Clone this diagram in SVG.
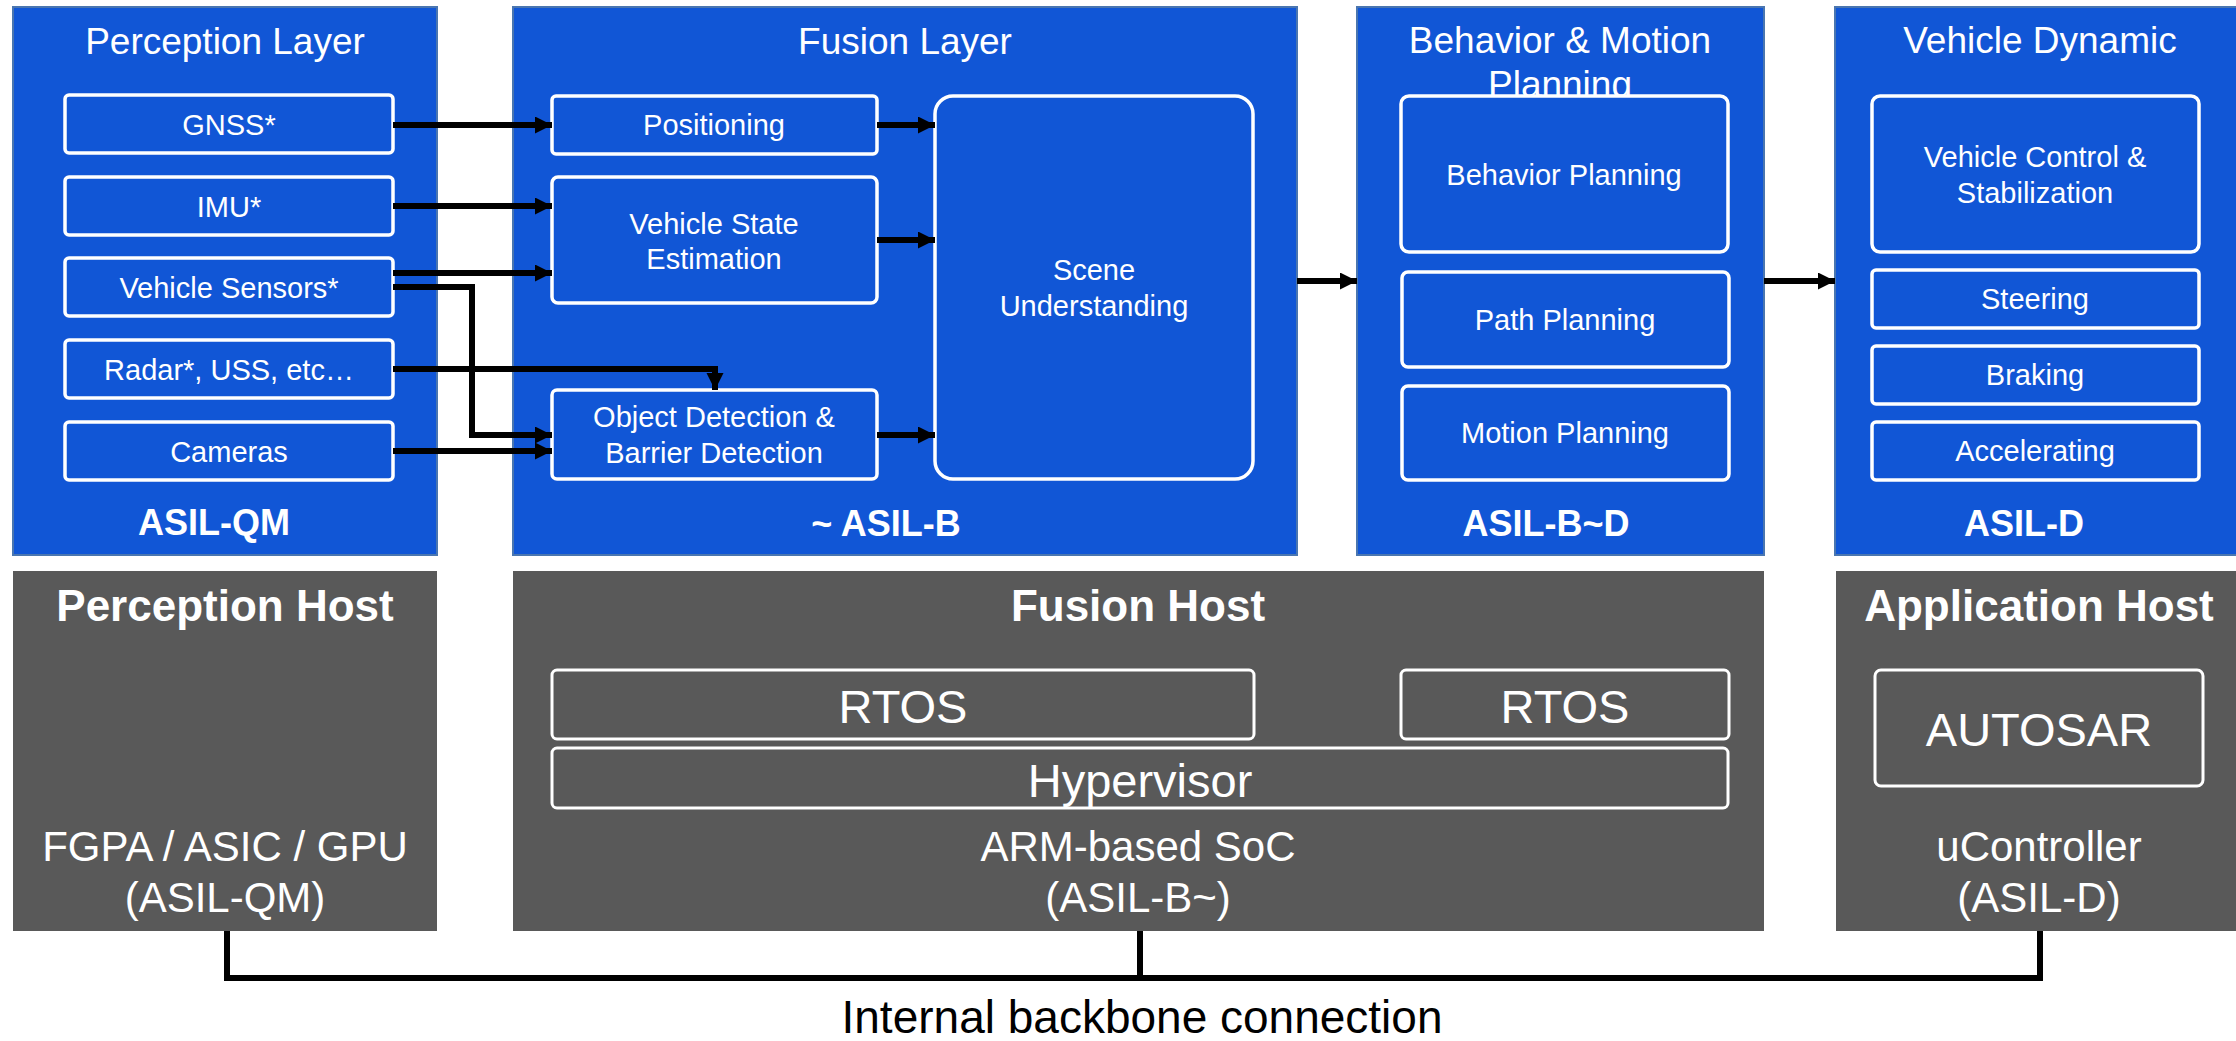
<svg xmlns="http://www.w3.org/2000/svg" width="2236" height="1041" viewBox="0 0 2236 1041">
  <style>
    text { font-family: "Liberation Sans", Arial, sans-serif; text-anchor: middle; }
    .panel { fill: #1156D6; stroke: #4A76B0; stroke-width: 2; }
    .host { fill: #595959; }
    .box { fill: #1156D6; stroke: #FFFFFF; stroke-width: 3.5; }
    .hbox { fill: none; stroke: #FFFFFF; stroke-width: 3; }
    .title { fill: #FFFFFF; font-size: 37px; }
    .lbl { fill: #FFFFFF; font-size: 29px; }
    .asil { fill: #FFFFFF; font-size: 36px; font-weight: bold; }
    .htitle { fill: #FFFFFF; font-size: 44px; font-weight: bold; }
    .hbig { fill: #FFFFFF; font-size: 47px; }
    .hsub { fill: #FFFFFF; font-size: 42px; }
    .wire { fill: none; stroke: #000000; stroke-width: 6; }
  </style>
  <defs>
    <marker id="arrow" markerUnits="userSpaceOnUse" markerWidth="18" markerHeight="18" refX="17" refY="8.5" orient="auto">
      <path d="M0,0 L17,8.5 L0,17 Z" fill="#000000"/>
    </marker>
  </defs>

  <rect width="2236" height="1041" fill="#FFFFFF"/>

  <!-- Perception layer -->
  <g id="perception-layer">
    <rect class="panel" x="13" y="7" width="424" height="548"/>
    <text class="title" x="225" y="54">Perception Layer</text>
    <text class="asil" x="214" y="535">ASIL-QM</text>
  </g>
  <g id="gnss"><rect class="box" x="65" y="95" width="328" height="58" rx="4"/><text class="lbl" x="229" y="135">GNSS*</text></g>
  <g id="imu"><rect class="box" x="65" y="177" width="328" height="58" rx="4"/><text class="lbl" x="229" y="217">IMU*</text></g>
  <g id="vehicle-sensors"><rect class="box" x="65" y="258" width="328" height="58" rx="4"/><text class="lbl" x="229" y="298">Vehicle Sensors*</text></g>
  <g id="radar"><rect class="box" x="65" y="340" width="328" height="58" rx="4"/><text class="lbl" x="229" y="380">Radar*, USS, etc…</text></g>
  <g id="cameras"><rect class="box" x="65" y="422" width="328" height="58" rx="4"/><text class="lbl" x="229" y="462">Cameras</text></g>

  <!-- Fusion layer -->
  <g id="fusion-layer">
    <rect class="panel" x="513" y="7" width="784" height="548"/>
    <text class="title" x="905" y="54">Fusion Layer</text>
    <text class="asil" x="886" y="536">~ ASIL-B</text>
  </g>
  <g id="positioning"><rect class="box" x="552" y="96" width="325" height="58" rx="4"/><text class="lbl" x="714" y="135">Positioning</text></g>
  <g id="vehicle-state"><rect class="box" x="552" y="177" width="325" height="126" rx="6"/><text class="lbl" x="714" y="234">Vehicle State</text><text class="lbl" x="714" y="269">Estimation</text></g>
  <g id="object-detection"><rect class="box" x="552" y="390" width="325" height="89" rx="5"/><text class="lbl" x="714" y="427">Object Detection &amp;</text><text class="lbl" x="714" y="463">Barrier Detection</text></g>
  <g id="scene-understanding"><rect class="box" x="935" y="96" width="318" height="383" rx="18"/><text class="lbl" x="1094" y="280">Scene</text><text class="lbl" x="1094" y="316">Understanding</text></g>

  <!-- Behavior & motion planning layer -->
  <g id="planning-layer">
    <rect class="panel" x="1357" y="7" width="407" height="548"/>
    <text class="title" x="1560" y="53">Behavior &amp; Motion</text>
    <text class="title" x="1560" y="97">Planning</text>
    <text class="asil" x="1546" y="536">ASIL-B~D</text>
  </g>
  <g id="behavior-planning"><rect class="box" x="1401" y="96" width="327" height="156" rx="8"/><text class="lbl" x="1564" y="185">Behavior Planning</text></g>
  <g id="path-planning"><rect class="box" x="1402" y="272" width="327" height="95" rx="6"/><text class="lbl" x="1565" y="330">Path Planning</text></g>
  <g id="motion-planning"><rect class="box" x="1402" y="386" width="327" height="94" rx="6"/><text class="lbl" x="1565" y="443">Motion Planning</text></g>

  <!-- Vehicle dynamic layer -->
  <g id="vehicle-dynamic-layer">
    <rect class="panel" x="1835" y="7" width="412" height="548"/>
    <text class="title" x="2040" y="53">Vehicle Dynamic</text>
    <text class="asil" x="2024" y="536">ASIL-D</text>
  </g>
  <g id="vehicle-control"><rect class="box" x="1872" y="96" width="327" height="156" rx="8"/><text class="lbl" x="2035" y="167">Vehicle Control &amp;</text><text class="lbl" x="2035" y="203">Stabilization</text></g>
  <g id="steering"><rect class="box" x="1872" y="270" width="327" height="58" rx="4"/><text class="lbl" x="2035" y="309">Steering</text></g>
  <g id="braking"><rect class="box" x="1872" y="346" width="327" height="58" rx="4"/><text class="lbl" x="2035" y="385">Braking</text></g>
  <g id="accelerating"><rect class="box" x="1872" y="422" width="327" height="58" rx="4"/><text class="lbl" x="2035" y="461">Accelerating</text></g>

  <!-- Hosts -->
  <g id="perception-host">
    <rect class="host" x="13" y="571" width="424" height="360"/>
    <text class="htitle" x="225" y="621">Perception Host</text>
    <text class="hsub" x="225" y="861">FGPA / ASIC / GPU</text>
    <text class="hsub" x="225" y="912">(ASIL-QM)</text>
  </g>
  <g id="fusion-host">
    <rect class="host" x="513" y="571" width="1251" height="360"/>
    <text class="htitle" x="1138" y="621">Fusion Host</text>
    <text class="hsub" x="1138" y="861">ARM-based SoC</text>
    <text class="hsub" x="1138" y="912">(ASIL-B~)</text>
  </g>
  <g id="rtos-1"><rect class="hbox" x="552" y="670" width="702" height="69" rx="5"/><text class="hbig" x="903" y="723">RTOS</text></g>
  <g id="rtos-2"><rect class="hbox" x="1401" y="670" width="328" height="69" rx="5"/><text class="hbig" x="1565" y="723">RTOS</text></g>
  <g id="hypervisor"><rect class="hbox" x="552" y="748" width="1176" height="60" rx="5"/><text class="hbig" x="1140" y="797">Hypervisor</text></g>
  <g id="application-host">
    <rect class="host" x="1836" y="571" width="410" height="360"/>
    <text class="htitle" x="2039" y="621">Application Host</text>
    <text class="hsub" x="2039" y="861">uController</text>
    <text class="hsub" x="2039" y="912">(ASIL-D)</text>
  </g>
  <g id="autosar"><rect class="hbox" x="1875" y="670" width="328" height="116" rx="6"/><text class="hbig" x="2039" y="746">AUTOSAR</text></g>

  <!-- Connectors -->
  <g id="connectors">
    <path class="wire" d="M393,125 H552" marker-end="url(#arrow)"/>
    <path class="wire" d="M393,206 H552" marker-end="url(#arrow)"/>
    <path class="wire" d="M393,273 H552" marker-end="url(#arrow)"/>
    <path class="wire" d="M393,287 H472 V435 H552" marker-end="url(#arrow)"/>
    <path class="wire" d="M393,369 H715 V390" marker-end="url(#arrow)"/>
    <path class="wire" d="M393,451 H552" marker-end="url(#arrow)"/>
    <path class="wire" d="M877,125 H935" marker-end="url(#arrow)"/>
    <path class="wire" d="M877,240 H935" marker-end="url(#arrow)"/>
    <path class="wire" d="M877,435 H935" marker-end="url(#arrow)"/>
    <path class="wire" d="M1297,281 H1357" marker-end="url(#arrow)"/>
    <path class="wire" d="M1764,281 H1835" marker-end="url(#arrow)"/>
    <path class="wire" d="M227,931 V978 H2040 V931"/>
    <path class="wire" d="M1140,931 V978"/>
  </g>

  <text x="1142" y="1033" style="font-size:46px; fill:#000000;">Internal backbone connection</text>
</svg>
